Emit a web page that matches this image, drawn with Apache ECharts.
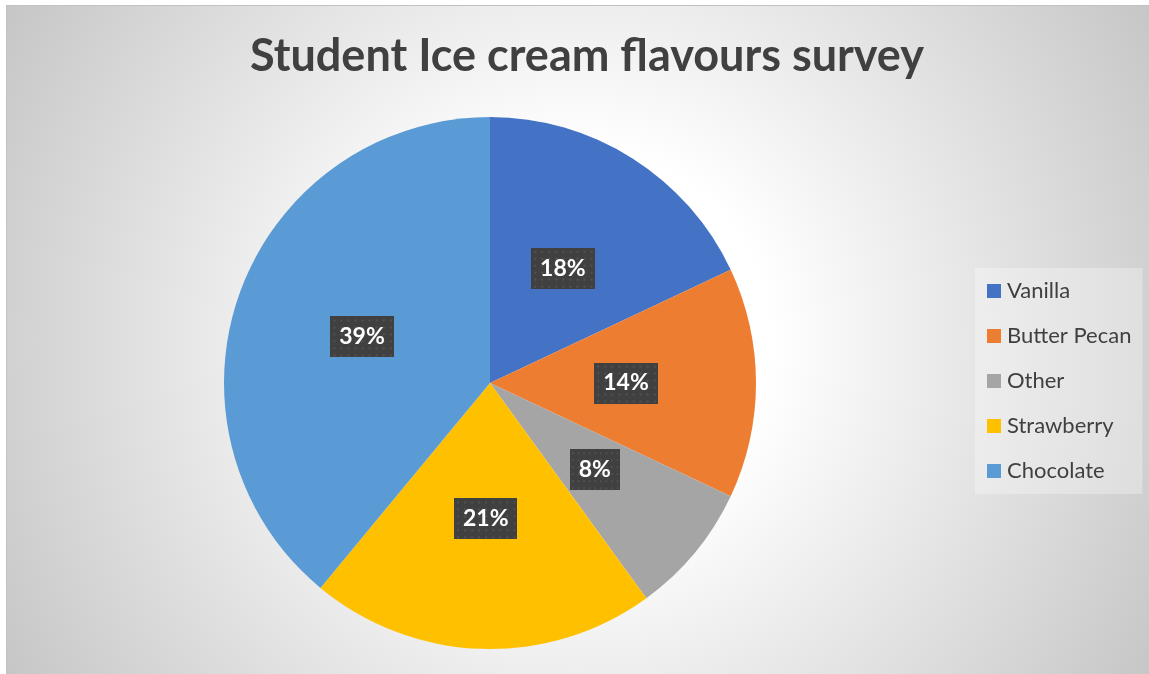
<!DOCTYPE html>
<html>
<head>
<meta charset="utf-8">
<style>
  html, body { margin: 0; padding: 0; background: #ffffff; width: 1149px; height: 674px; overflow: hidden; }
  #frame {
    position: absolute; left: 6px; top: 5px; width: 1149px; height: 674px;
    border: 1px solid #c2c2c2; box-sizing: border-box;
    background: radial-gradient(circle 680px at 572px 335px, #ffffff 0px, #ffffff 190px, #c4c4c4 680px);
  }
  #chart { position: absolute; left: 0; top: 0; width: 1149px; height: 674px; }
</style>
<script src="https://cdn.jsdelivr.net/npm/echarts@6/dist/echarts.min.js"></script>
</head>
<body>
<div id="frame"></div>
<div id="chart"></div>
<script>
// Survey results: share of students per favourite flavour (%)
const flavours = ['Vanilla', 'Butter Pecan', 'Other', 'Strawberry', 'Chocolate'];
const shares = [18, 14, 8, 21, 39];
const sliceColors = ['#4472C4', '#ED7D31', '#A5A5A5', '#FFC000', '#5B9BD5'];

// Dotted dark tile used behind the percentage labels
function dottedTile() {
  const c = document.createElement('canvas');
  c.width = 63; c.height = 41;
  const g = c.getContext('2d');
  g.fillStyle = '#404040';
  g.fillRect(0, 0, c.width, c.height);
  g.fillStyle = '#525252';
  for (let y = 3; y < c.height; y += 7) {
    for (let x = 3; x < c.width; x += 7) {
      g.fillRect(x, y, 2, 2);
    }
  }
  return c;
}
const tile = dottedTile();

const chart = echarts.init(document.getElementById('chart'), null, { renderer: 'canvas' });

chart.setOption({
  backgroundColor: 'transparent',
  animation: false,
  color: sliceColors,
  title: {
    text: 'Student Ice cream flavours survey',
    left: 582,
    top: 29,
    textAlign: 'center',
    textStyle: {
      fontFamily: 'Lato',
      fontWeight: 'bold',
      fontSize: 45,
      color: '#404040'
    }
  },
  legend: {
    orient: 'vertical',
    left: 975,
    top: 268,
    padding: [12, 11, 12, 12],
    backgroundColor: 'rgba(255,255,255,0.3)',
    itemWidth: 14,
    itemHeight: 14,
    itemGap: 23,
    icon: 'rect',
    data: flavours,
    textStyle: {
      fontFamily: 'Lato',
      fontSize: 22,
      lineHeight: 22,
      color: '#404040',
      padding: [0, 0, 0, 1]
    }
  },
  series: [{
    type: 'pie',
    center: [490, 383],
    radius: ['0%', 266],
    startAngle: 90,
    clockwise: true,
    avoidLabelOverlap: false,
    itemStyle: { borderWidth: 0 },
    label: {
      show: true,
      position: 'inside',
      formatter: '{d}%',
      fontFamily: 'Lato',
      fontWeight: 'bold',
      fontSize: 23,
      lineHeight: 22,
      color: '#ffffff',
      backgroundColor: { image: tile },
      padding: [10, 9, 9, 9],
      shadowColor: 'rgba(0,0,0,0.5)',
      shadowBlur: 7,
      shadowOffsetX: 3,
      shadowOffsetY: 3
    },
    labelLine: { show: false },
    emphasis: { disabled: true },
    data: flavours.map((name, i) => ({ name: name, value: shares[i] }))
  }]
});
</script>
</body>
</html>
